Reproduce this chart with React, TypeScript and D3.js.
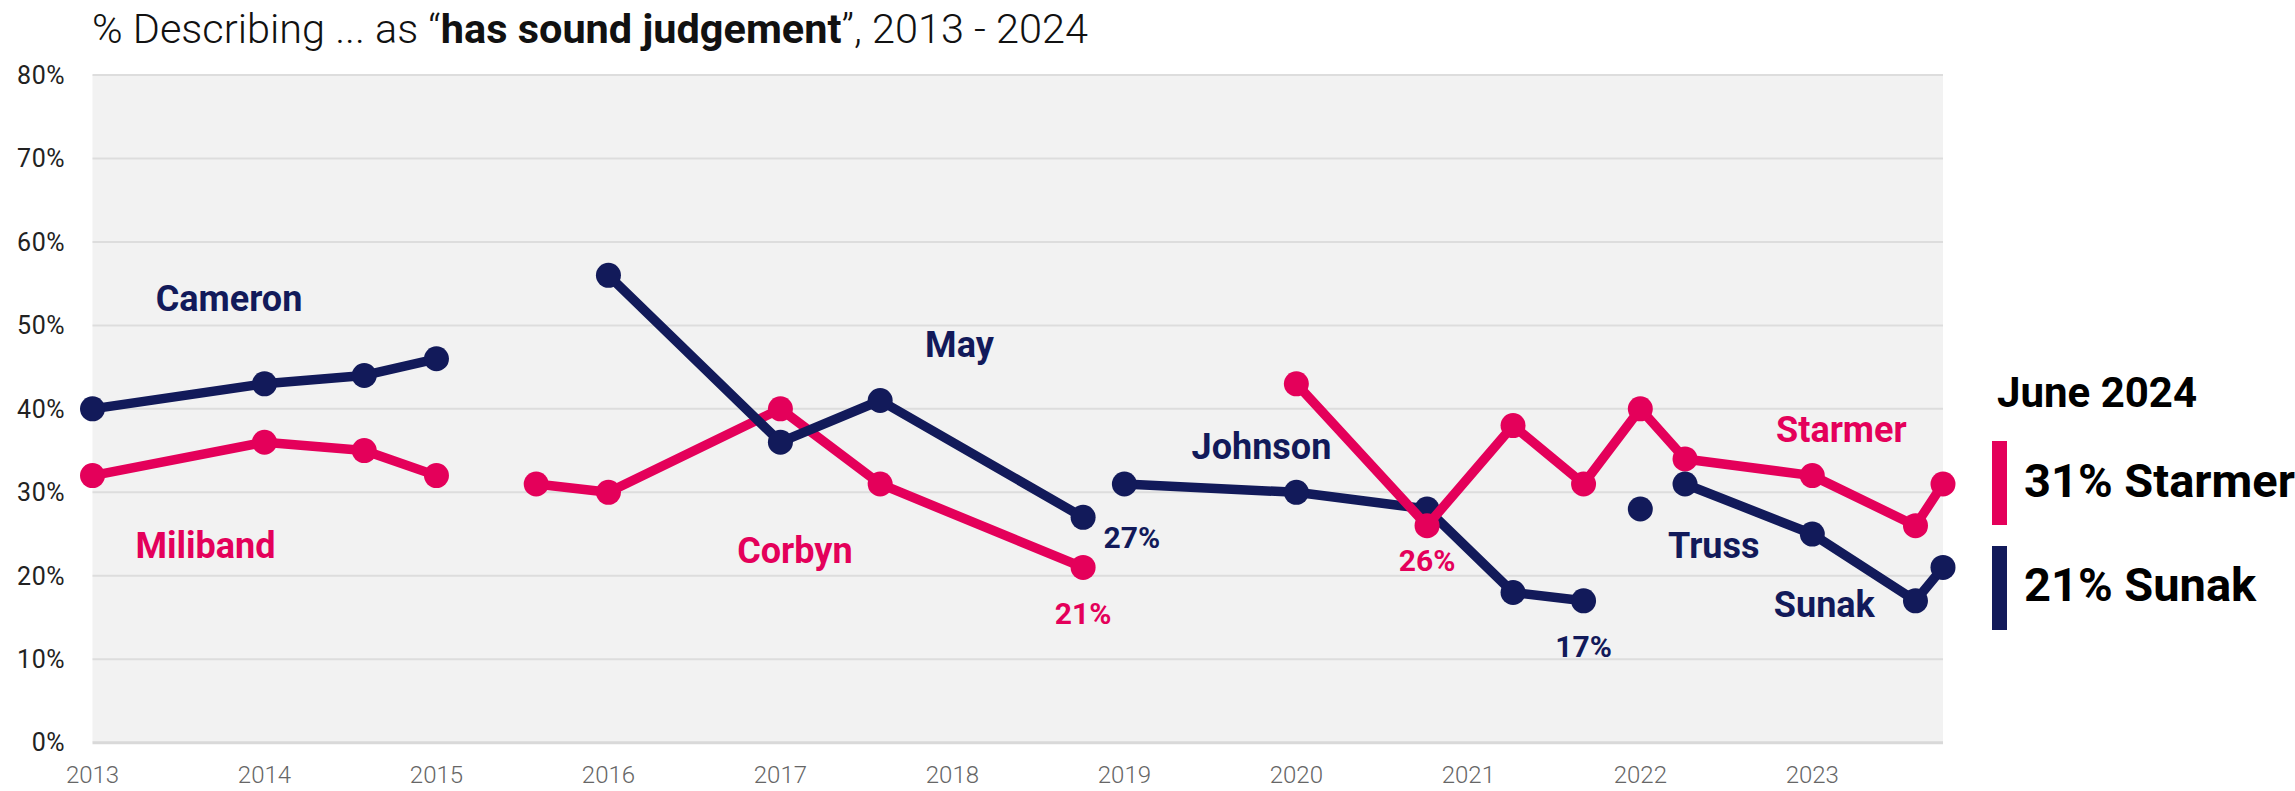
import React from "react";
import * as d3 from "d3";

const NAVY = "#121a5a";
const PINK = "#e4005a";

const yTicks = [0, 10, 20, 30, 40, 50, 60, 70, 80];
const xTicks = [2013, 2014, 2015, 2016, 2017, 2018, 2019, 2020, 2021, 2022, 2023];

// each leader series: dates (fractional years) and values (%)
const cameronX = [2013, 2014, 2014.58, 2015];
const cameronY = [40, 43, 44, 46];
const milibandX = [2013, 2014, 2014.58, 2015];
const milibandY = [32, 36, 35, 32];
const corbynX = [2015.58, 2016, 2017, 2017.58, 2018.76];
const corbynY = [31, 30, 40, 31, 21];
const mayX = [2016, 2017, 2017.58, 2018.76];
const mayY = [56, 36, 41, 27];
const johnsonX = [2019, 2020, 2020.76, 2021.26, 2021.67];
const johnsonY = [31, 30, 28, 18, 17];
const starmerX = [2020, 2020.76, 2021.26, 2021.67, 2022, 2022.26, 2023, 2023.6, 2023.76];
const starmerY = [43, 26, 38, 31, 40, 34, 32, 26, 31];
const trussX = [2022];
const trussY = [28];
const sunakX = [2022.26, 2023, 2023.6, 2023.76];
const sunakY = [31, 25, 17, 21];

const seriesList = [
  { name: "Cameron", party: "con", xs: cameronX, ys: cameronY },
  { name: "Miliband", party: "lab", xs: milibandX, ys: milibandY },
  { name: "Corbyn", party: "lab", xs: corbynX, ys: corbynY },
  { name: "May", party: "con", xs: mayX, ys: mayY },
  { name: "Johnson", party: "con", xs: johnsonX, ys: johnsonY },
  { name: "Starmer", party: "lab", xs: starmerX, ys: starmerY },
  { name: "Truss", party: "con", xs: trussX, ys: trussY },
  { name: "Sunak", party: "con", xs: sunakX, ys: sunakY },
];

// annotation labels, anchored at (year, value) in data space
const labelText = ["Cameron", "Miliband", "May", "Corbyn", "27%", "21%", "Johnson", "26%", "17%", "Starmer", "Truss", "Sunak"];
const labelParty = ["con", "lab", "con", "lab", "con", "lab", "con", "lab", "con", "lab", "con", "con"];
const labelYear = [2013.794, 2013.657, 2018.041, 2017.084, 2019.043, 2018.76, 2019.797, 2020.76, 2021.67, 2023.169, 2022.427, 2023.07];
const labelValue = [51.76, 22.15, 46.25, 21.55, 23.35, 14.23, 34.02, 20.59, 10.28, 36.06, 22.15, 15.07];

const legendTitle = "June 2024";
const legendText = ["31% Starmer", "21% Sunak"];
const legendParty = ["lab", "con"];

const W = 2295;
const H = 791;
const M = { left: 92.5, right: 1943, top: 75, bottom: 742.7 };

export default function App() {
  const x = d3.scaleLinear().domain([2013, 2023.76]).range([M.left, M.right]);
  const y = d3.scaleLinear().domain([0, 80]).range([M.bottom, M.top]);
  const color = (p: string) => (p === "con" ? NAVY : PINK);
  const line = d3
    .line<[number, number]>()
    .x((d) => x(d[0]))
    .y((d) => y(d[1]));

  const font = "Roboto, 'Noto Sans', sans-serif";

  return (
    <svg
      width={W}
      height={H}
      style={{ position: "absolute", left: 0, top: 0, background: "#fff" }}
      fontFamily={font}
    >
      <rect x={M.left} y={M.top} width={M.right - M.left} height={M.bottom - M.top} fill="#f2f2f2" />
      {yTicks.map((t) => (
        <g key={t}>
          <line
            x1={M.left}
            x2={M.right}
            y1={y(t)}
            y2={y(t)}
            stroke={t === 0 ? "#d9d9d9" : "#dddddd"}
            strokeWidth={t === 0 ? 3 : 2}
          />
          <text x={65} y={y(t)} dy="0.35em" textAnchor="end" fontSize={25} fill="#222" letterSpacing={0.5}>
            {t}%
          </text>
        </g>
      ))}
      {xTicks.map((t) => (
        <text key={t} x={x(t)} y={783} textAnchor="middle" fontSize={24} fill="#666" fontWeight={300}>
          {t}
        </text>
      ))}

      <text x={92} y={43} fontSize={41} fontWeight={300} fill="#111" textLength={996} lengthAdjust="spacingAndGlyphs">
        % Describing ... as “<tspan fontWeight={700}>has sound judgement</tspan>”, 2013 - 2024
      </text>

      {seriesList.map((s) => {
        const pts = s.xs.map((xv, i) => [xv, s.ys[i]] as [number, number]);
        const c = color(s.party);
        return (
          <g key={s.name}>
            {pts.length > 1 && (
              <path d={line(pts) || ""} fill="none" stroke={c} strokeWidth={9.5} strokeLinejoin="round" />
            )}
            {pts.map((p, i) => (
              <circle key={i} cx={x(p[0])} cy={y(p[1])} r={12.5} fill={c} />
            ))}
          </g>
        );
      })}

      {labelText.map((t, i) => {
        const isPct = t.endsWith("%");
        return (
          <text
            key={t + i}
            x={x(labelYear[i])}
            y={y(labelValue[i])}
            textAnchor="middle"
            fontSize={isPct ? 30 : 36}
            fontWeight={700}
            fill={color(labelParty[i])}
          >
            {t}
          </text>
        );
      })}

      <text x={1997} y={406.5} fontSize={42} fontWeight={700} fill="#000">
        {legendTitle}
      </text>
      {legendText.map((t, i) => (
        <g key={t}>
          <rect x={1992} y={441 + i * 105} width={15} height={84} fill={color(legendParty[i])} />
          <text x={2024} y={496.5 + i * 104} fontSize={47} fontWeight={700} fill="#000">
            {t}
          </text>
        </g>
      ))}
    </svg>
  );
}
